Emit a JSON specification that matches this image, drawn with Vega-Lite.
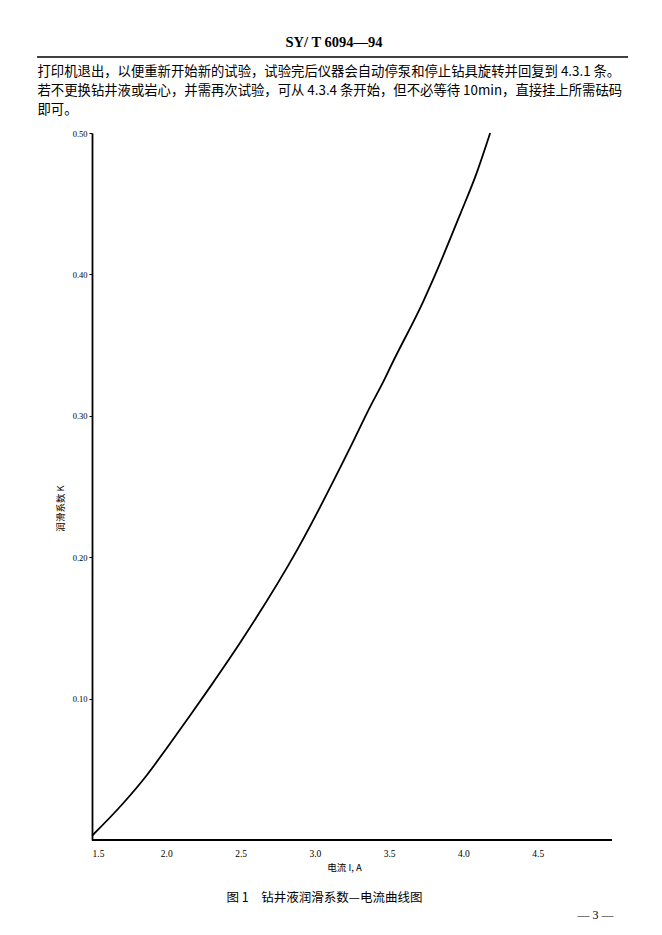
{
  "$schema": "https://vega.github.io/schema/vega-lite/v6.json",
  "width": 520,
  "height": 707,
  "autosize": {"type": "none"},
  "padding": {"left": 92, "top": 133, "right": 50, "bottom": 95},
  "background": "white",
  "title": {
    "text": "SY/ T 6094—94",
    "anchor": "middle",
    "frame": "group",
    "dx": -18,
    "offset": 6,
    "font": "Liberation Serif",
    "fontSize": 14.5,
    "fontWeight": "bold",
    "color": "black"
  },
  "config": {
    "view": {"stroke": null},
    "axis": {
      "grid": false,
      "labelColor": "#000000",
      "titleColor": "#000000",
      "domainColor": "#000000",
      "tickColor": "#000000",
      "titleFontWeight": "normal"
    }
  },
  "resolve": {"axis": {"x": "independent", "y": "independent"}},
  "layer": [
    {
      "data": {
        "values": [
          {"I": 1.50, "K": 0.003},
          {"I": 1.71, "K": 0.026},
          {"I": 1.87, "K": 0.046},
          {"I": 2.01, "K": 0.066},
          {"I": 2.16, "K": 0.088},
          {"I": 2.30, "K": 0.109},
          {"I": 2.50, "K": 0.140},
          {"I": 2.88, "K": 0.205},
          {"I": 3.24, "K": 0.278},
          {"I": 3.37, "K": 0.306},
          {"I": 3.46, "K": 0.324},
          {"I": 3.52, "K": 0.337},
          {"I": 3.73, "K": 0.381},
          {"I": 3.79, "K": 0.395},
          {"I": 3.98, "K": 0.443},
          {"I": 4.09, "K": 0.472},
          {"I": 4.18, "K": 0.500}
        ]
      },
      "mark": {"type": "line", "color": "black", "strokeWidth": 1.8, "interpolate": "monotone"},
      "encoding": {
        "x": {
          "field": "I",
          "type": "quantitative",
          "scale": {"domain": [1.5, 5.0], "nice": false, "zero": false},
          "axis": {
            "orient": "bottom",
            "values": [1.5, 2.0, 2.5, 3.0, 3.5, 4.0, 4.5],
            "format": ".1f",
            "domain": false,
            "ticks": false,
            "labelPadding": 8,
            "labelColor": "#000000",
            "labelFont": "Liberation Serif",
            "labelFontSize": 9.5,
            "title": "电流 I, A",
            "titleColor": "#000000",
            "titleFont": "Noto Sans CJK SC",
            "titleFontSize": 9.5,
            "titleX": 252,
            "titleY": 27,
            "titleAlign": "center",
            "titleBaseline": "middle"
          }
        },
        "y": {
          "field": "K",
          "type": "quantitative",
          "scale": {"domain": [0, 0.5], "nice": false, "zero": false},
          "axis": {
            "orient": "left",
            "values": [0.1, 0.2, 0.3, 0.4, 0.5],
            "format": ".2f",
            "domainWidth": 1.8,
            "tickSize": 3,
            "labelPadding": 2,
            "labelColor": "#000000",
            "labelFont": "Liberation Serif",
            "labelFontSize": 8.5,
            "title": "润滑系数 K",
            "titleColor": "#000000",
            "titleFont": "Noto Sans CJK SC",
            "titleFontSize": 9.5,
            "titleAngle": -90,
            "titleX": -32,
            "titleY": 375,
            "titleAlign": "center",
            "titleBaseline": "middle"
          }
        }
      }
    },
    {
      "data": {"values": [{"part": "x axis line"}]},
      "mark": {"type": "rule", "color": "black", "strokeWidth": 2},
      "encoding": {
        "x": {
          "datum": 1.5,
          "type": "quantitative",
          "scale": {"domain": [1.5, 5.0], "nice": false, "zero": false},
          "axis": {
            "orient": "bottom",
            "domain": false,
            "ticks": false,
            "labels": false,
            "title": "图 1\u3000钻井液润滑系数—电流曲线图",
            "titleColor": "#000000",
            "titleFont": "Noto Sans CJK SC",
            "titleFontSize": 12.5,
            "titleX": 232,
            "titleY": 57,
            "titleAlign": "center",
            "titleBaseline": "middle"
          }
        },
        "x2": {"datum": 5.0},
        "y": {
          "datum": 0,
          "type": "quantitative",
          "scale": {"domain": [0, 0.5], "nice": false, "zero": false},
          "axis": null
        }
      }
    },
    {
      "data": {"values": [{"part": "header rule"}]},
      "mark": {"type": "rule", "color": "black", "strokeWidth": 1.5},
      "encoding": {
        "x": {
          "datum": 1.13,
          "type": "quantitative",
          "scale": {"domain": [1.5, 5.0], "nice": false, "zero": false},
          "axis": {
            "orient": "top",
            "domain": false,
            "ticks": false,
            "labels": false,
            "title": [
              "打印机退出，以便重新开始新的试验，试验完后仪器会自动停泵和停止钻具旋转并回复到 4.3.1 条。",
              "若不更换钻井液或岩心，并需再次试验，可从 4.3.4 条开始，但不必等待 10min，直接挂上所需砝码",
              "即可。"
            ],
            "titleColor": "#000000",
            "titleFont": "Noto Sans CJK SC",
            "titleFontSize": 13.35,
            "titleLineHeight": 19,
            "titleAngle": 0,
            "titleX": -55,
            "titleY": -69,
            "titleAlign": "left",
            "titleBaseline": "top"
          }
        },
        "x2": {"datum": 5.108},
        "y": {
          "datum": 0.5537,
          "type": "quantitative",
          "scale": {"domain": [0, 0.5], "nice": false, "zero": false},
          "axis": {
            "orient": "right",
            "domain": false,
            "ticks": false,
            "labels": false,
            "title": "— 3 —",
            "titleColor": "#000000",
            "titleFont": "Liberation Serif",
            "titleFontSize": 12,
            "titleAngle": 0,
            "titleX": -17,
            "titleY": 781,
            "titleAlign": "center",
            "titleBaseline": "middle"
          }
        }
      }
    }
  ]
}
